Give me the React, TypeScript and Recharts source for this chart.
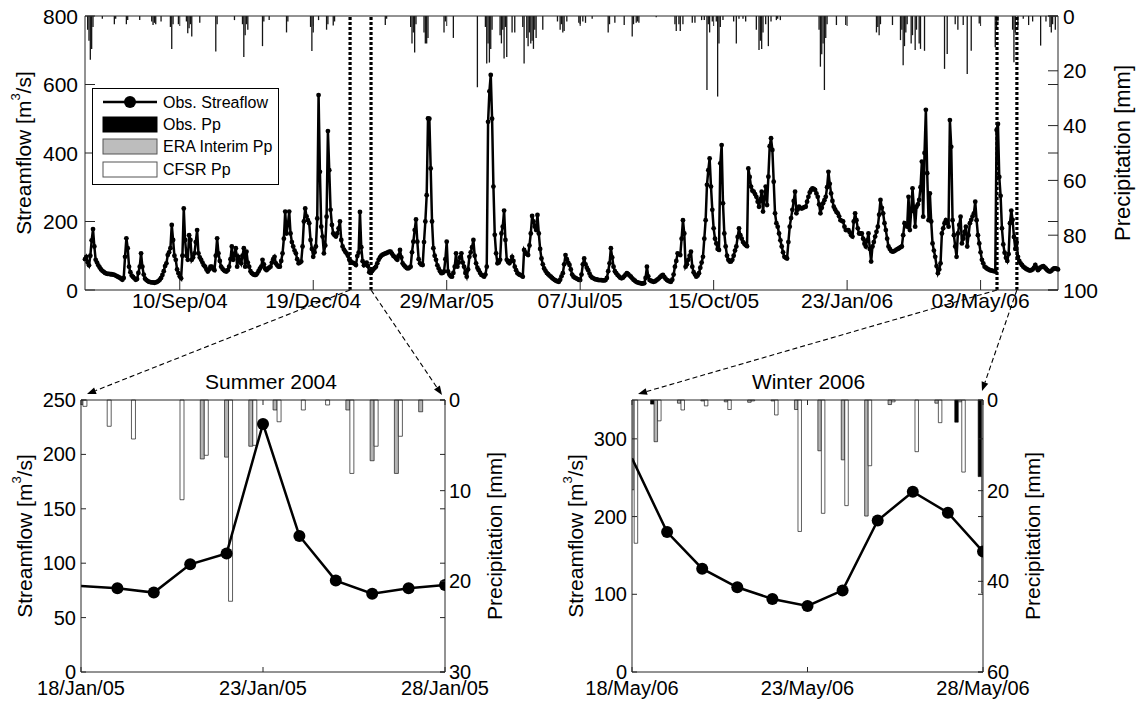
import React from 'react';
import { ComposedChart, Line, Bar, XAxis, YAxis, ReferenceLine, Legend } from 'recharts';

const FONT = '"Liberation Sans", Arial, Helvetica, sans-serif';
const AX = '#262626';

// ---------- Top panel: daily data, day 0 = 01/Jul/04 ... day 729 = 29/Jun/06 ----------
const streamflow: number[] = [
  90, 97, 80, 72, 100, 145, 178, 127, 88, 80,
  72, 66, 60, 56, 53, 50, 48, 47, 47, 46,
  46, 45, 44, 42, 40, 38, 36, 33, 30, 35,
  97, 151, 122, 68, 52, 42, 38, 34, 30, 32,
  50, 68, 107, 68, 45, 33, 29, 26, 24, 23,
  22, 22, 21, 22, 24, 26, 30, 35, 44, 55,
  70, 78, 102, 110, 122, 190, 146, 100, 88, 60,
  49, 40, 34, 100, 238, 146, 100, 88, 160, 146,
  88, 95, 107, 140, 175, 107, 95, 88, 80, 72,
  68, 60, 54, 60, 68, 68, 62, 58, 100, 151,
  107, 85, 68, 62, 58, 55, 54, 58, 68, 90,
  127, 88, 105, 122, 68, 97, 88, 78, 100, 122,
  68, 112, 80, 68, 55, 49, 46, 44, 44, 48,
  55, 62, 68, 88, 75, 62, 58, 62, 65, 68,
  80, 90, 97, 78, 72, 68, 68, 85, 107, 150,
  229, 165, 190, 229, 165, 140, 127, 115, 107, 90,
  78, 80, 83, 127, 200, 238, 215, 204, 195, 146,
  120, 97, 110, 127, 209, 569, 345, 185, 156, 107,
  130, 214, 464, 350, 234, 190, 165, 160, 156, 165,
  180, 200, 146, 127, 118, 112, 107, 100, 88, 84,
  80, 79, 77, 73, 99, 109, 228, 125, 84, 72,
  77, 80, 70, 52, 50, 55, 60, 64, 68, 78,
  88, 95, 100, 103, 105, 107, 108, 110, 112, 112,
  106, 100, 97, 92, 88, 100, 117, 95, 78, 72,
  68, 64, 63, 65, 68, 110, 141, 175, 206, 141,
  90, 78, 74, 73, 140, 200, 277, 501, 500, 355,
  200, 122, 100, 88, 72, 63, 55, 49, 50, 54,
  90, 141, 54, 45, 40, 39, 50, 68, 107, 68,
  80, 95, 107, 80, 68, 50, 39, 60, 97, 110,
  125, 146, 100, 78, 65, 58, 50, 44, 42, 39,
  45, 68, 491, 580, 628, 500, 302, 161, 107, 78,
  80, 88, 165, 185, 232, 146, 88, 82, 78, 85,
  97, 85, 68, 58, 49, 46, 44, 42, 39, 117,
  110, 105, 102, 130, 165, 216, 200, 185, 175, 219,
  165, 120, 92, 75, 63, 56, 50, 46, 42, 39,
  35, 32, 29, 27, 25, 24, 30, 40, 49, 75,
  102, 90, 80, 73, 60, 45, 39, 36, 34, 32,
  30, 29, 45, 75, 92, 75, 65, 58, 48, 40,
  36, 34, 32, 31, 30, 29, 29, 29, 28, 28,
  29, 35, 55, 78, 122, 95, 68, 55, 49, 44,
  40, 36, 34, 36, 40, 45, 49, 46, 42, 39,
  34, 30, 27, 24, 22, 21, 20, 19, 19, 20,
  35, 68, 40, 29, 27, 25, 24, 25, 28, 31,
  34, 38, 42, 44, 38, 33, 29, 27, 25, 24,
  30, 45, 68, 85, 107, 105, 102, 150, 204, 165,
  68, 75, 88, 100, 112, 68, 52, 45, 39, 42,
  49, 65, 80, 97, 150, 204, 307, 350, 384, 302,
  234, 180, 150, 136, 120, 117, 370, 423, 253, 165,
  127, 100, 88, 83, 83, 88, 100, 115, 127, 155,
  180, 160, 150, 140, 135, 131, 128, 355, 330, 302,
  290, 287, 280, 272, 258, 243, 265, 287, 229, 270,
  302, 248, 331, 420, 443, 409, 316, 224, 195, 185,
  165, 145, 127, 110, 97, 94, 92, 140, 185, 210,
  234, 260, 287, 224, 235, 243, 240, 238, 240, 242,
  243, 258, 272, 285, 292, 297, 295, 292, 282, 272,
  250, 224, 240, 253, 262, 272, 300, 345, 310, 282,
  260, 243, 235, 228, 224, 215, 204, 202, 200, 185,
  175, 175, 175, 168, 160, 156, 200, 224, 204, 180,
  165, 165, 165, 150, 135, 127, 145, 165, 120, 83,
  127, 140, 156, 170, 185, 220, 263, 240, 224, 195,
  175, 150, 127, 120, 114, 112, 113, 115, 118, 120,
  122, 125, 127, 160, 195, 190, 185, 272, 175, 230,
  297, 240, 185, 243, 250, 263, 300, 375, 214, 400,
  526, 341, 204, 282, 200, 136, 115, 97, 70, 49,
  60, 78, 165, 180, 195, 204, 195, 185, 496, 418,
  204, 160, 127, 97, 165, 190, 214, 136, 150, 170,
  185, 127, 160, 195, 205, 215, 224, 258, 204, 160,
  136, 110, 88, 78, 68, 65, 62, 60, 58, 57,
  56, 55, 54, 467, 485, 330, 275, 180, 133, 109,
  94, 85, 105, 195, 232, 205, 155, 120, 140, 97,
  85, 78, 73, 68, 65, 62, 60, 58, 57, 58,
  60, 65, 73, 65, 58, 62, 66, 68, 70, 66,
  62, 58, 55, 54, 56, 60, 63, 63, 62, 60,
];

// observed daily precipitation (mm), sparse: day index and value
const topPpDays: number[] = [
  2, 3, 4, 5, 6, 13, 22, 23, 31, 32, 41, 50, 51, 52, 53, 57, 64, 65, 66, 70,
  76, 77, 78, 79, 80, 86, 98, 99, 112, 118, 119, 120, 121, 122, 133, 134, 138, 151, 152, 169,
  170, 171, 175, 181, 182, 186, 187, 225, 226, 244, 245, 246, 247, 248, 254, 255, 256, 257, 269, 270,
  276, 294, 300, 301, 302, 303, 304, 305, 311, 312, 313, 314, 315, 316, 320, 322, 328, 329, 331, 332,
  333, 334, 335, 336, 337, 338, 343, 354, 356, 357, 358, 359, 361, 370, 371, 373, 375, 380, 392, 393,
  397, 404, 410, 411, 413, 414, 415, 428, 442, 443, 445, 446, 448, 455, 457, 462, 464, 466, 467, 468,
  470, 473, 474, 475, 476, 478, 486, 488, 490, 493, 495, 503, 505, 506, 507, 508, 510, 512, 514, 518,
  519, 521, 550, 551, 552, 553, 554, 555, 556, 563, 570, 593, 594, 595, 596, 605, 611, 612, 613, 614,
  615, 616, 619, 620, 622, 623, 625, 626, 629, 644, 646, 652, 654, 658, 661, 664, 670, 682, 683, 684,
  695, 696, 697, 699, 703, 707, 710, 716, 720, 723, 724, 725, 727,
];
const topPpValues: number[] = [
  5, 9, 16, 12, 4, 1, 3, 1, 3, 1.5, 1.5, 2, 3.3, 2.5, 3, 2, 4, 12, 3, 3,
  2, 6.3, 4.5, 3, 7.5, 2.5, 13, 3, 1.5, 3, 15, 7, 3, 5, 11, 2, 1.5, 6, 2, 4,
  12.8, 6, 1.5, 5, 3, 3.5, 2, 3.3, 1, 4, 10, 6, 13.3, 3, 6, 10, 10, 8, 6, 2,
  8, 26, 4, 17.3, 10, 17, 12, 5, 7, 10, 5, 15.5, 4, 15, 6, 6, 4, 17.3, 8, 11,
  6, 10, 9, 12, 5, 8, 5, 2, 5, 3, 6, 5.5, 2, 2.5, 3, 2, 2.5, 1, 6, 3,
  2.5, 3.3, 7.5, 3, 2.5, 2, 2.5, 0.5, 3, 5.5, 3, 5.5, 3, 2.5, 2.5, 1.5, 1.5, 27, 3, 6,
  2, 2, 29.4, 10, 4, 1.5, 2, 10, 1, 1, 2, 5, 12.4, 9, 12, 6, 3, 11, 2, 1.5,
  1, 1.5, 5, 18.5, 14, 10, 27, 8, 3, 3.3, 3.3, 6, 4, 7, 3, 3.3, 8.8, 5, 18, 11,
  6, 3, 10, 7, 12.4, 5, 10, 12, 12.7, 19.3, 13.9, 3, 5, 3.3, 21.2, 12.7, 2.7, 11.4, 5, 2,
  5, 16.9, 6, 4, 1, 3.3, 2, 10.8, 2, 4, 6, 3, 5,
];

const topTickDays = [71, 171, 271, 371, 471, 571, 671];
const topTickLabels = ['10/Sep/04', '19/Dec/04', '29/Mar/05', '07/Jul/05', '15/Oct/05', '23/Jan/06', '03/May/06'];
const summerZoomDays = [198.6, 214.3];
const winterZoomDays = [683.3, 698.2];

// ---------- Bottom panels (day offsets 0..10, precipitation slots every 2/3 day) ----------
const zoomTickDays = [0, 5, 10];
const summerTickLabels = ['18/Jan/05', '23/Jan/05', '28/Jan/05'];
const winterTickLabels = ['18/May/06', '23/May/06', '28/May/06'];

const summerFlow = [79, 77, 73, 99, 109, 228, 125, 84, 72, 77, 80];
const summerObsPp: (number | null)[] = [null, null, null, null, null, null, null, null, null, null, null, null, null, null, null, null];
const summerEraPp: (number | null)[] = [0.5, null, null, null, null, 6.5, 6.3, 5.1, 1.1, null, null, 1.1, 6.7, 8.1, 1.3, null];
const summerCfsrPp: (number | null)[] = [0.7, 2.9, 4.3, null, 11.0, 6.1, 22.2, 5.0, 2.4, 1.1, 0.55, 8.1, 5.1, 4.0, null, null];

const winterFlow = [275, 180, 133, 109, 94, 85, 105, 195, 232, 205, 155];
const winterObsPp: (number | null)[] = [null, 0.9, null, null, null, null, null, null, null, null, null, null, null, null, 4.9, 16.9];
const winterEraPp: (number | null)[] = [19.8, 9.2, 0.7, 0.2, 0.4, 0.5, 0.2, 2.1, 11.2, 13.2, 25.6, 1.0, null, 0.7, 0.4, 42.6];
const winterCfsrPp: (number | null)[] = [31.6, 4.6, 2.2, 1.3, 2.1, 0.2, 3.3, 29.0, 25.0, 23.3, 14.5, 0.4, 11.4, 5.0, 15.9, null];

// ---------- Layout ----------
const TOP = { width: 1137, height: 320, left: 85, right: 1058, top: 16, bottom: 290 };
const SUMMER = { x: 0, y: 360, width: 560, height: 345, left: 81, right: 445, top: 400, bottom: 672 };
const WINTER = { x: 560, y: 360, width: 577, height: 345, left: 632, right: 983, top: 400, bottom: 672 };
const AXW = 70;
const XAH = 30;

// ---------- Data tables ----------
const ppByDay = new Map<number, number>(topPpDays.map((d, i) => [d, topPpValues[i]]));
const topData = streamflow.map((q, d) => ({ d, q, p: ppByDay.has(d) ? ppByDay.get(d)! : null }));

function buildZoomData(flow: number[], obs: (number | null)[], era: (number | null)[], cfsr: (number | null)[]) {
  const map = new Map<number, any>();
  flow.forEach((q, i) => {
    const key = i * 3;
    map.set(key, { ...(map.get(key) || { x: key / 3 }), q });
  });
  obs.forEach((_, k) => {
    const key = k * 2;
    map.set(key, { ...(map.get(key) || { x: key / 3 }), obs: obs[k], era: era[k], cfsr: cfsr[k] });
  });
  return [...map.entries()].sort((a, b) => a[0] - b[0]).map((e) => e[1]);
}
const summerData = buildZoomData(summerFlow, summerObsPp, summerEraPp, summerCfsrPp);
const winterData = buildZoomData(winterFlow, winterObsPp, winterEraPp, winterCfsrPp);

// ---------- Renderers ----------
const leftTick = (len: number, span: number, fs: number, gap: number) => (p: any) => {
  const { x, y, payload } = p;
  return (
    <g>
      <line x1={x} y1={y} x2={x + len} y2={y} stroke={AX} />
      <line x1={x + span} y1={y} x2={x + span - len} y2={y} stroke={AX} />
      <text x={x - gap} y={y} textAnchor="end" dominantBaseline="central" fontSize={fs} fontFamily={FONT} fill="#000">
        {payload.value}
      </text>
    </g>
  );
};
const rightTick = (len: number, fs: number, gap: number) => (p: any) => {
  const { x, y, payload } = p;
  return (
    <g>
      <line x1={x} y1={y} x2={x - len} y2={y} stroke={AX} />
      <text x={x + gap} y={y} textAnchor="start" dominantBaseline="central" fontSize={fs} fontFamily={FONT} fill="#000">
        {payload.value}
      </text>
    </g>
  );
};
const bottomTick = (len: number, span: number, fs: number, gap: number, ticks: number[], labels: string[]) => (p: any) => {
  const { x, y, payload } = p;
  const label = labels[ticks.indexOf(payload.value)] ?? '';
  return (
    <g>
      <line x1={x} y1={y} x2={x} y2={y - len} stroke={AX} />
      <line x1={x} y1={y - span} x2={x} y2={y - span + len} stroke={AX} />
      <text x={x} y={y + gap} dy="0.72em" textAnchor="middle" fontSize={fs} fontFamily={FONT} fill="#000">
        {label}
      </text>
    </g>
  );
};
const axisTitle = (content: React.ReactNode, dx: number, fs = 21) => (props: any) => {
  const vb = props.viewBox || {};
  const cx = vb.x + dx;
  const cy = vb.y + vb.height / 2;
  return (
    <text x={cx} y={cy} transform={`rotate(-90 ${cx} ${cy})`} textAnchor="middle" dominantBaseline="central" fontSize={fs} fontFamily={FONT} fill="#000">
      {content}
    </text>
  );
};
const flowTitle = (
  <>
    Streamflow [m<tspan dy={-8} fontSize={13}>3</tspan>
    <tspan dy={8}>/s]</tspan>
  </>
);

const zoomShape = (target: { x: number; y: number }) => (props: any) => {
  const { x1, y1, x2, y2 } = props;
  const yb = Math.max(y1, y2);
  const ang = Math.atan2(target.y - yb, target.x - x1);
  const hl = 9;
  const hw = 3.5;
  const bx = target.x - hl * Math.cos(ang);
  const by = target.y - hl * Math.sin(ang);
  const px = -Math.sin(ang) * hw;
  const py = Math.cos(ang) * hw;
  return (
    <g>
      <line x1={x1} y1={y1} x2={x2} y2={y2} stroke="#000" strokeWidth={3.2} strokeDasharray="3 2" />
      <line x1={x1} y1={yb} x2={bx} y2={by} stroke="#000" strokeWidth={1.1} strokeDasharray="5 3" />
      <polygon points={`${target.x},${target.y} ${bx + px},${by + py} ${bx - px},${by - py}`} fill="#000" />
    </g>
  );
};

const LegendBox = () => (
  <svg width={187} height={97} style={{ display: 'block' }}>
    <rect x={0.5} y={0.5} width={186} height={96} fill="#fff" stroke="#000" />
    <line x1={11} x2={65} y1={14} y2={14} stroke="#000" strokeWidth={2.5} />
    <circle cx={38} cy={14} r={6} fill="#000" />
    <text x={71} y={14} dominantBaseline="central" fontSize={16} fontFamily={FONT}>Obs. Streaflow</text>
    <rect x={11} y={29} width={54} height={15} fill="#000" stroke="#000" />
    <text x={71} y={36.5} dominantBaseline="central" fontSize={16} fontFamily={FONT}>Obs. Pp</text>
    <rect x={11} y={51} width={54} height={15} fill="#bdbdbd" stroke="#555" />
    <text x={71} y={58.5} dominantBaseline="central" fontSize={16} fontFamily={FONT}>ERA Interim Pp</text>
    <rect x={11} y={74} width={54} height={15} fill="#fff" stroke="#555" />
    <text x={71} y={81.5} dominantBaseline="central" fontSize={16} fontFamily={FONT}>CFSR Pp</text>
  </svg>
);

const zoomDot = (r: number) => (p: any) => {
  const { cx, cy, index, payload } = p;
  if (cy == null || cx == null || payload.x === 0) return <g key={`d${index}`} />;
  return <circle key={`d${index}`} cx={cx} cy={cy} r={r} fill="#000" />;
};

function ZoomChart(props: {
  box: typeof SUMMER;
  data: any[];
  flowMax: number;
  flowTicks: number[];
  ppMax: number;
  ppTicks: number[];
  labels: string[];
}) {
  const { box, data, flowMax, flowTicks, ppMax, ppTicks, labels } = props;
  const plotW = box.right - box.left;
  const plotH = box.bottom - box.top;
  const margin = {
    top: box.top - box.y,
    left: box.left - box.x - AXW,
    right: box.width - (box.right - box.x) - AXW,
    bottom: box.height - (box.bottom - box.y) - XAH,
  };
  return (
    <ComposedChart width={box.width} height={box.height} data={data} margin={margin} barGap={0}>
      <XAxis
        dataKey="x"
        type="number"
        domain={[0, 10]}
        allowDataOverflow
        ticks={zoomTickDays}
        interval={0}
        tickSize={0}
        tickMargin={0}
        height={XAH}
        tickLine={false}
        axisLine={{ stroke: AX }}
        tick={bottomTick(5, plotH, 20, 9, zoomTickDays, labels)}
      />
      <YAxis
        yAxisId="q"
        orientation="left"
        type="number"
        domain={[0, flowMax]}
        ticks={flowTicks}
        interval={0}
        width={AXW}
        tickSize={0}
        tickMargin={0}
        tickLine={false}
        axisLine={{ stroke: AX }}
        tick={leftTick(5, plotW, 20, 5)}
        label={axisTitle(flowTitle, 13)}
      />
      <YAxis
        yAxisId="p"
        orientation="right"
        type="number"
        domain={[0, ppMax]}
        reversed
        ticks={ppTicks}
        interval={0}
        width={AXW}
        tickSize={0}
        tickMargin={0}
        tickLine={false}
        axisLine={{ stroke: AX }}
        tick={rightTick(5, 20, 4)}
        label={axisTitle('Precipitation [mm]', 49)}
      />
      <ReferenceLine yAxisId="q" y={flowMax} stroke={AX} />
      <Bar yAxisId="p" dataKey="obs" barSize={4} fill="#000" stroke="#000" strokeWidth={0.6} isAnimationActive={false} />
      <Bar yAxisId="p" dataKey="era" barSize={4} fill="#b4b4b4" stroke="#1a1a1a" strokeWidth={0.7} isAnimationActive={false} />
      <Bar yAxisId="p" dataKey="cfsr" barSize={4} fill="#fff" stroke="#1a1a1a" strokeWidth={0.7} isAnimationActive={false} />
      <Line
        yAxisId="q"
        dataKey="q"
        type="linear"
        stroke="#000"
        strokeWidth={2.5}
        connectNulls
        dot={zoomDot(6)}
        activeDot={false}
        isAnimationActive={false}
      />
    </ComposedChart>
  );
}

export default function App() {
  const topPlotW = TOP.right - TOP.left;
  const topPlotH = TOP.bottom - TOP.top;
  const summerTargets = [
    { x: SUMMER.left + 6, y: SUMMER.top - 6 },
    { x: SUMMER.right - 3, y: SUMMER.top - 5 },
  ];
  const winterTargets = [
    { x: WINTER.left + 6, y: WINTER.top - 6 },
    { x: WINTER.right - 1, y: WINTER.top - 9 },
  ];
  return (
    <div style={{ position: 'absolute', left: 0, top: 0, width: 1137, height: 705, background: '#fff', fontFamily: FONT }}>
      <style>{`.recharts-surface{overflow:visible}`}</style>
      <div style={{ position: 'absolute', left: 0, top: 0 }}>
        <ComposedChart
          width={TOP.width}
          height={TOP.height}
          data={topData}
          margin={{ top: TOP.top, left: TOP.left - 75, right: TOP.width - TOP.right - 60, bottom: TOP.height - TOP.bottom - XAH }}
        >
          <XAxis
            dataKey="d"
            type="number"
            domain={[0, 729]}
            ticks={topTickDays}
            interval={0}
            tickSize={0}
            tickMargin={0}
            height={XAH}
            tickLine={false}
            axisLine={{ stroke: AX }}
            tick={bottomTick(10, topPlotH, 21, 3, topTickDays, topTickLabels)}
          />
          <YAxis
            yAxisId="q"
            orientation="left"
            type="number"
            domain={[0, 800]}
            ticks={[0, 200, 400, 600, 800]}
            interval={0}
            width={75}
            tickSize={0}
            tickMargin={0}
            tickLine={false}
            axisLine={{ stroke: AX }}
            tick={leftTick(10, topPlotW, 21, 7)}
            label={axisTitle(flowTitle, 13)}
          />
          <YAxis
            yAxisId="p"
            orientation="right"
            type="number"
            domain={[0, 100]}
            reversed
            ticks={[0, 20, 40, 60, 80, 100]}
            interval={0}
            width={60}
            tickSize={0}
            tickMargin={0}
            tickLine={false}
            axisLine={{ stroke: AX }}
            tick={rightTick(10, 21, 5)}
            label={axisTitle('Precipitation [mm]', 64, 22)}
          />
          <ReferenceLine yAxisId="q" y={800} stroke={AX} />
          <Bar yAxisId="p" dataKey="p" fill="#151515" barSize={1.3} isAnimationActive={false} />
          <Line
            yAxisId="q"
            dataKey="q"
            type="linear"
            stroke="#000"
            strokeWidth={2.5}
            dot={{ r: 2.4, fill: '#000', stroke: 'none' }}
            activeDot={false}
            isAnimationActive={false}
          />
          {summerZoomDays.map((d, i) => (
            <ReferenceLine key={`s${i}`} yAxisId="q" x={d} stroke="#000" shape={zoomShape(summerTargets[i])} />
          ))}
          {winterZoomDays.map((d, i) => (
            <ReferenceLine key={`w${i}`} yAxisId="q" x={d} stroke="#000" shape={zoomShape(winterTargets[i])} />
          ))}
          <Legend
            layout="vertical"
            align="center"
            verticalAlign="middle"
            content={() => <LegendBox />}
            wrapperStyle={{ left: 92, top: 88, width: 187, height: 97 }}
          />
        </ComposedChart>
      </div>

      <div style={{ position: 'absolute', left: SUMMER.x, top: SUMMER.y }}>
        <ZoomChart box={SUMMER} data={summerData} flowMax={250} flowTicks={[0, 50, 100, 150, 200, 250]} ppMax={30} ppTicks={[0, 10, 20, 30]} labels={summerTickLabels} />
      </div>
      <div style={{ position: 'absolute', left: WINTER.x, top: WINTER.y }}>
        <ZoomChart box={WINTER} data={winterData} flowMax={350} flowTicks={[0, 100, 200, 300]} ppMax={60} ppTicks={[0, 20, 40, 60]} labels={winterTickLabels} />
      </div>

      <div style={{ position: 'absolute', left: (SUMMER.left + SUMMER.right) / 2 - 142, width: 300, top: 371, textAlign: 'center', fontSize: 21, lineHeight: '22px', color: '#000' }}>
        Summer 2004
      </div>
      <div style={{ position: 'absolute', left: (WINTER.left + WINTER.right) / 2 - 149, width: 300, top: 371, textAlign: 'center', fontSize: 21, lineHeight: '22px', color: '#000' }}>
        Winter 2006
      </div>
    </div>
  );
}
